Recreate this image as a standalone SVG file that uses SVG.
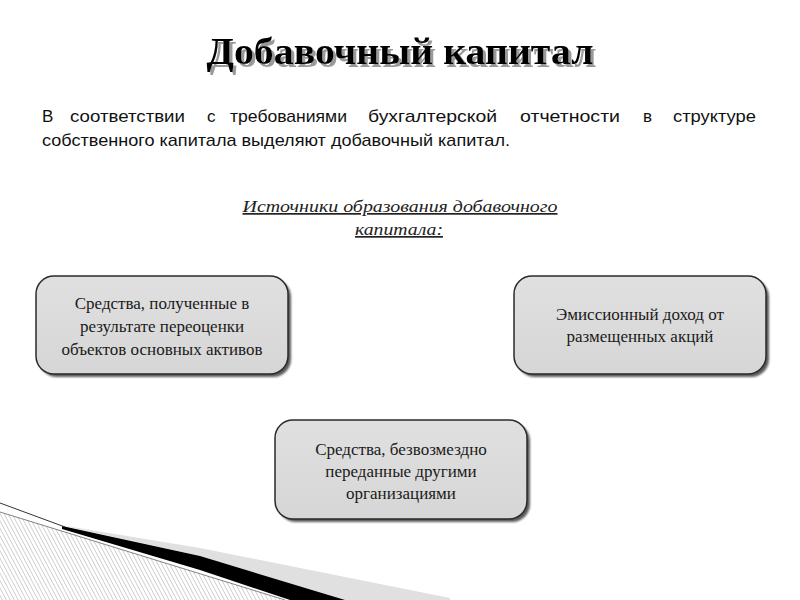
<svg xmlns="http://www.w3.org/2000/svg" width="800" height="600" viewBox="0 0 800 600">
<defs>
<style>
.title{font-family:"Liberation Serif","DejaVu Serif",serif;font-weight:bold;font-size:38px;}
.para{font-family:"Liberation Sans","DejaVu Sans",sans-serif;font-size:17px;fill:#111;}
.sub{font-family:"Liberation Serif","DejaVu Serif",serif;font-style:italic;font-size:17px;fill:#222;text-decoration:underline;}
.box{fill:url(#boxg);stroke:#2a2a2a;stroke-width:1.5;}
.shadow{fill:#5a5a5a;filter:url(#blur);}
.lbl{font-family:"Liberation Serif","DejaVu Serif",serif;font-size:17px;fill:#1a1a1a;text-anchor:middle;}
</style>
<linearGradient id="boxg" x1="0" y1="0" x2="0" y2="1">
<stop offset="0" stop-color="#e0e0e0"/>
<stop offset="1" stop-color="#d6d6d6"/>
</linearGradient>
<filter id="blur" x="-10%" y="-10%" width="120%" height="130%"><feGaussianBlur stdDeviation="1"/></filter>
<filter id="tshadow" x="-5%" y="-20%" width="110%" height="150%">
<feOffset in="SourceAlpha" dx="3" dy="3" result="o"/>
<feFlood flood-color="#9a9a9a"/>
<feComposite in2="o" operator="in" result="s"/>
<feMerge><feMergeNode in="s"/><feMergeNode in="SourceGraphic"/></feMerge>
</filter>
<pattern id="hatch" width="3.5" height="4" patternUnits="userSpaceOnUse" patternTransform="rotate(-28)">
<line x1="0" y1="0" x2="0" y2="4" stroke="#8a8a8a" stroke-width="0.8"/>
</pattern>
</defs>
<rect width="800" height="600" fill="#fff"/>

<g id="decoration">
<polygon points="0,512 285,600 0,600" fill="url(#hatch)"/>
<polygon points="60,525 200,548 450,598 450,600 340,600 200,556" fill="#e0e0e0"/>
<polygon points="62,526 200,556 345,600 290,600 200,570 62,529" fill="#000"/>
<line x1="0" y1="503" x2="65" y2="527" stroke="#333" stroke-width="1"/>
<line x1="0" y1="512" x2="285" y2="600" stroke="#666" stroke-width="0.8"/>
</g>

<g id="title">
<text x="400" y="64" class="title" text-anchor="middle" fill="#000" filter="url(#tshadow)" textLength="387" lengthAdjust="spacingAndGlyphs">Добавочный капитал</text>
</g>

<g id="paragraph" class="para">
<text x="42" y="122">В</text>
<text x="70" y="122" textLength="115" lengthAdjust="spacingAndGlyphs">соответствии</text>
<text x="207" y="122">с</text>
<text x="230" y="122" textLength="117" lengthAdjust="spacingAndGlyphs">требованиями</text>
<text x="368" y="122" textLength="129" lengthAdjust="spacingAndGlyphs">бухгалтерской</text>
<text x="520" y="122" textLength="100" lengthAdjust="spacingAndGlyphs">отчетности</text>
<text x="643" y="122">в</text>
<text x="673" y="122" textLength="83" lengthAdjust="spacingAndGlyphs">структуре</text>
<text x="42" y="146" textLength="468" lengthAdjust="spacingAndGlyphs">собственного капитала выделяют добавочный капитал.</text>
</g>

<g id="subtitle" class="sub">
<text x="400" y="212" text-anchor="middle" textLength="315" lengthAdjust="spacingAndGlyphs">Источники образования добавочного</text>
<text x="399" y="235" text-anchor="middle" textLength="88" lengthAdjust="spacingAndGlyphs">капитала:</text>
</g>

<g id="connectors"></g>

<g id="node1">
<rect class="shadow" x="39" y="279" width="252" height="98" rx="18"/>
<rect class="box" x="36" y="276" width="252" height="98" rx="18"/>
<text class="lbl" x="162" y="309">Средства, полученные в</text>
<text class="lbl" x="162" y="332">результате переоценки</text>
<text class="lbl" x="162" y="355">объектов основных активов</text>
</g>

<g id="node2">
<rect class="shadow" x="517" y="279" width="252" height="98" rx="18"/>
<rect class="box" x="514" y="276" width="252" height="98" rx="18"/>
<text class="lbl" x="640" y="320">Эмиссионный доход от</text>
<text class="lbl" x="640" y="342">размещенных акций</text>
</g>

<g id="node3">
<rect class="shadow" x="278" y="423" width="252" height="99" rx="18"/>
<rect class="box" x="275" y="420" width="252" height="99" rx="18"/>
<text class="lbl" x="401" y="455">Средства, безвозмездно</text>
<text class="lbl" x="401" y="477">переданные другими</text>
<text class="lbl" x="401" y="499">организациями</text>
</g>
</svg>
